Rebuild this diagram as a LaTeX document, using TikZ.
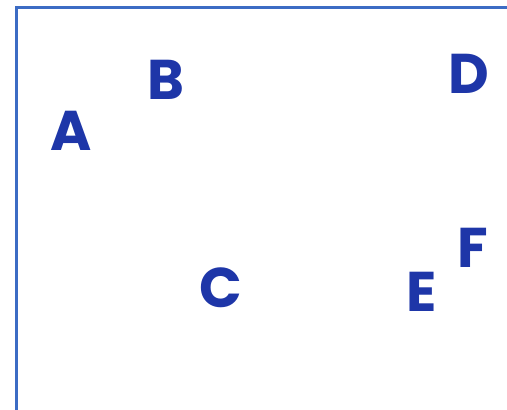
\documentclass[tikz,border=0pt]{standalone}
\usepackage{fontspec}
\setmainfont{Poppins}
\usepackage{xcolor}
\definecolor{framebl}{RGB}{60, 108, 196}
\definecolor{letterbl}{RGB}{30, 54, 168}

\begin{document}
\begin{tikzpicture}[x=1pt, y=-1pt]
    \useasboundingbox (0,0) rectangle (507,410);
    \tikzset{letter/.style={text=letterbl, font=\fontsize{56}{56}\selectfont\bfseries, inner sep=0pt}}

    % Frame
    \draw[line width=3pt, framebl] (16,412) -- (16,7) -- (509,7);

    % Letters
    \node[letter] (a) at (71,131) {A};
    \node[letter] (b) at (166,80) {B};
    \node[letter] (c) at (221,288) {C};
    \node[letter] (d) at (469,74) {D};
    \node[letter] (e) at (422,292) {E};
    \node[letter] (f) at (473,248) {F};
\end{tikzpicture}
\end{document}
